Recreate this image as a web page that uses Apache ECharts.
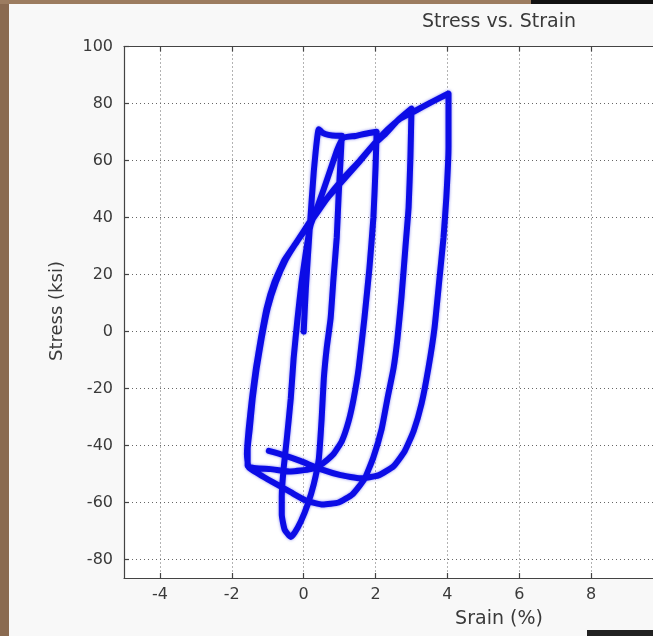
<!DOCTYPE html>
<html>
<head>
<meta charset="utf-8">
<script src="https://cdn.jsdelivr.net/npm/echarts@6/dist/echarts.min.js"></script>
<style>
  html, body { margin: 0; padding: 0; background: #f8f8f8; }
  #chart { width: 653px; height: 636px; }
</style>
</head>
<body>
<div id="chart"></div>
<script>
// Cyclic test record: strain (%) and stress (ksi), in loading order
const strain = [
  0, 0.06, 0.17, 0.28, 0.42, 0.53, 0.69, 0.89, 1.06,
  1.03, 0.97, 0.92, 0.83, 0.75, 0.64, 0.56, 0.5, 0.42, 0.28, 0.11, -0.08, -0.25, -0.36,
  -0.53, -0.61, -0.61, -0.56, -0.47, -0.36, -0.28, -0.17, -0.06, 0.06, 0.19, 0.36, 0.56, 0.75, 0.94, 1.11, 1.44, 1.72, 2.03,
  2.0, 1.94, 1.83, 1.69, 1.53, 1.39, 1.25, 1.06, 0.83, 0.53, 0.19, -0.36, -0.92, -1.33, -1.56,
  -1.56, -1.5, -1.42, -1.31, -1.17, -1.0, -0.78, -0.5, -0.17, 0.19, 0.61, 1.08, 1.53, 1.94, 2.28, 2.61, 3.0,
  2.97, 2.92, 2.83, 2.72, 2.61, 2.5, 2.33, 2.17, 1.94, 1.69, 1.36, 0.97, 0.53, 0.06, -0.36, -0.86, -1.25, -1.53,
  -1.58, -1.53, -1.44, -1.33, -1.19, -1.03, -0.81, -0.53, -0.19, 0.14, 0.53, 0.97, 1.5, 1.94, 2.33, 2.69, 3.06, 3.53, 4.03,
  4.03, 3.97, 3.89, 3.78, 3.64, 3.47, 3.28, 3.06, 2.81, 2.5, 2.08, 1.58, 1.03, 0.47, -0.08, -0.56, -0.97
];
const stress = [
  0, 15, 36.5, 56, 71, 69.7, 69, 68.7, 68.7,
  61.2, 47.1, 33, 18.8, 4.7, -5.9, -16.5, -30.6, -44.8, -53.6, -60.7, -66.7, -70.6, -72.1,
  -69.5, -64.2, -57.8, -48.3, -37.7, -23.6, -9.4, 4.7, 17.1, 27.7, 37.2, 42.9, 50, 57, 64, 68, 68.6, 69.4, 70.1,
  57.7, 40, 22.4, 4.7, -12.9, -23.6, -31.5, -38.5, -43, -46.3, -48.3, -49.1, -48.3, -48, -47.2,
  -41.2, -34.1, -23.6, -13, -2.4, 8.2, 17.1, 25.2, 31.9, 38.3, 46, 53.4, 59.5, 65.5, 69.4, 74, 78.2,
  61.2, 43.6, 29.4, 11.8, -2.4, -12.9, -23.6, -34.2, -44.1, -51.8, -57.1, -60, -60.7, -59.3, -56.4, -52.9, -50, -47.6,
  -43, -34.1, -23.6, -13, -2.4, 8.2, 17.4, 25.2, 31.5, 37.9, 45, 51.3, 58.8, 65.5, 70.8, 74.7, 77.1, 80.3, 83.5,
  64.8, 47.1, 32.9, 18.8, 1.2, -12.9, -25.3, -34.9, -42, -47.3, -50.5, -51.5, -50.4, -48.3, -45.5, -43.4, -41.9
];

// Tick values
const strainTicks = [-4, -2, 0, 2, 4, 6, 8];
const stressTicks = [-80, -60, -40, -20, 0, 20, 40, 60, 80, 100];

const points = strain.map((x, i) => [x, stress[i]]);

const FONT = '"DejaVu Sans", Verdana, sans-serif';
const gridLine = { show: true, lineStyle: { color: '#666', width: 1, type: [1, 3] } };
const axisLineStyle = { show: true, lineStyle: { color: '#444', width: 1.2 } };
const labelFont = { color: '#3a3a3a', fontFamily: FONT, fontSize: 16 };
const tickStyle = { color: '#444', width: 1.2 };

const chart = echarts.init(document.getElementById('chart'), null, { renderer: 'canvas' });
chart.setOption({
  animation: false,
  backgroundColor: '#f8f8f8',
  grid: { left: 124, top: 46.5, right: 0, bottom: 58, show: true, backgroundColor: '#ffffff', borderWidth: 0 },
  xAxis: [
    {
      type: 'value', min: -5, max: 9.72, position: 'bottom',
      axisLine: Object.assign({ onZero: false }, axisLineStyle),
      axisTick: { show: true, inside: true, length: 5, customValues: strainTicks, lineStyle: tickStyle },
      axisLabel: Object.assign({ margin: 9, customValues: strainTicks }, labelFont),
      splitLine: gridLine
    },
    {
      type: 'value', min: -5, max: 9.72, position: 'top',
      axisLine: Object.assign({ onZero: false }, axisLineStyle),
      axisTick: { show: true, inside: true, length: 5, customValues: strainTicks, lineStyle: tickStyle },
      axisLabel: { show: false },
      splitLine: { show: false }
    }
  ],
  yAxis: {
    type: 'value', min: -86.5, max: 100,
    axisLine: Object.assign({ onZero: false }, axisLineStyle),
    axisTick: { show: true, inside: true, length: 5, customValues: stressTicks, lineStyle: tickStyle },
    axisLabel: Object.assign({ margin: 11, customValues: stressTicks }, labelFont),
    splitLine: gridLine
  },
  graphic: [
    { type: 'rect', left: 0, top: 0, shape: { width: 9, height: 636 }, style: { fill: '#8a6a50' }, z: 100 },
    { type: 'rect', left: 0, top: 0, shape: { width: 531, height: 4 }, style: { fill: '#9c7c60' }, z: 100 },
    { type: 'rect', left: 531, top: 0, shape: { width: 122, height: 4 }, style: { fill: '#111' }, z: 100 },
    { type: 'rect', left: 587, top: 630, shape: { width: 66, height: 6 }, style: { fill: '#222' }, z: 100 },
    { type: 'text', x: 499, y: 22, style: { text: 'Stress vs. Strain', fill: '#3a3a3a', font: '19px ' + FONT, textAlign: 'center', textVerticalAlign: 'middle' } },
    { type: 'text', x: 499, y: 619, style: { text: 'Srain (%)', fill: '#3a3a3a', font: '19px ' + FONT, textAlign: 'center', textVerticalAlign: 'middle' } },
    { type: 'text', x: 57, y: 311, rotation: Math.PI / 2, style: { text: 'Stress (ksi)', fill: '#3a3a3a', font: '18px ' + FONT, textAlign: 'center', textVerticalAlign: 'middle' } }
  ],
  series: [{
    type: 'line',
    data: points,
    showSymbol: false,
    smooth: 0.15,
    clip: true,
    lineStyle: { color: '#0c0ce6', width: 6, cap: 'round', join: 'round', shadowColor: 'rgba(12,12,230,0.5)', shadowBlur: 3 }
  }]
});
</script>
</body>
</html>
